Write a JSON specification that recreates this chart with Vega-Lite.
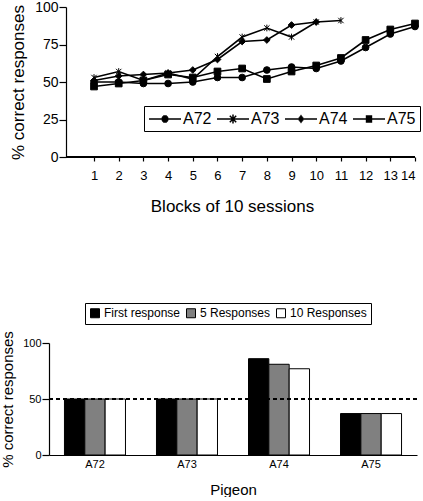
{
  "$schema": "https://vega.github.io/schema/vega-lite/v6.json",
  "padding": {"left": 0, "top": 0, "right": 0, "bottom": 0},
  "background": "white",
  "spacing": 116,
  "config": {
    "font": "Liberation Sans",
    "view": {"stroke": null},
    "axis": {"domainColor": "black", "tickColor": "black", "labelColor": "black", "titleColor": "black", "titleFontWeight": "normal", "grid": false, "domainWidth": 1.2, "tickWidth": 1.2},
    "legend": {"labelColor": "black", "titleColor": "black"}
  },
  "datasets": {
    "lines": [
      {"block": 1, "pigeon": "A72", "pct": 50}, {"block": 2, "pigeon": "A72", "pct": 50}, {"block": 3, "pigeon": "A72", "pct": 49}, {"block": 4, "pigeon": "A72", "pct": 49}, {"block": 5, "pigeon": "A72", "pct": 50}, {"block": 6, "pigeon": "A72", "pct": 53}, {"block": 7, "pigeon": "A72", "pct": 53}, {"block": 8, "pigeon": "A72", "pct": 58}, {"block": 9, "pigeon": "A72", "pct": 60}, {"block": 10, "pigeon": "A72", "pct": 59}, {"block": 11, "pigeon": "A72", "pct": 64}, {"block": 12, "pigeon": "A72", "pct": 73}, {"block": 13, "pigeon": "A72", "pct": 82}, {"block": 14, "pigeon": "A72", "pct": 87},
      {"block": 1, "pigeon": "A73", "pct": 53}, {"block": 2, "pigeon": "A73", "pct": 57}, {"block": 3, "pigeon": "A73", "pct": 51}, {"block": 4, "pigeon": "A73", "pct": 56}, {"block": 5, "pigeon": "A73", "pct": 52}, {"block": 6, "pigeon": "A73", "pct": 67}, {"block": 7, "pigeon": "A73", "pct": 80}, {"block": 8, "pigeon": "A73", "pct": 86}, {"block": 9, "pigeon": "A73", "pct": 80}, {"block": 10, "pigeon": "A73", "pct": 90}, {"block": 11, "pigeon": "A73", "pct": 91},
      {"block": 1, "pigeon": "A74", "pct": 51}, {"block": 2, "pigeon": "A74", "pct": 54}, {"block": 3, "pigeon": "A74", "pct": 55}, {"block": 4, "pigeon": "A74", "pct": 56}, {"block": 5, "pigeon": "A74", "pct": 58}, {"block": 6, "pigeon": "A74", "pct": 65}, {"block": 7, "pigeon": "A74", "pct": 77}, {"block": 8, "pigeon": "A74", "pct": 78}, {"block": 9, "pigeon": "A74", "pct": 88}, {"block": 10, "pigeon": "A74", "pct": 90},
      {"block": 1, "pigeon": "A75", "pct": 47}, {"block": 2, "pigeon": "A75", "pct": 49}, {"block": 3, "pigeon": "A75", "pct": 51}, {"block": 4, "pigeon": "A75", "pct": 55}, {"block": 5, "pigeon": "A75", "pct": 53}, {"block": 6, "pigeon": "A75", "pct": 57}, {"block": 7, "pigeon": "A75", "pct": 59}, {"block": 8, "pigeon": "A75", "pct": 52}, {"block": 9, "pigeon": "A75", "pct": 57}, {"block": 10, "pigeon": "A75", "pct": 61}, {"block": 11, "pigeon": "A75", "pct": 66}, {"block": 12, "pigeon": "A75", "pct": 78}, {"block": 13, "pigeon": "A75", "pct": 85}, {"block": 14, "pigeon": "A75", "pct": 89}
    ],
    "bars": [
      {"pigeon": "A72", "measure": "First response", "pct": 50}, {"pigeon": "A72", "measure": "5 Responses", "pct": 50}, {"pigeon": "A72", "measure": "10 Responses", "pct": 50},
      {"pigeon": "A73", "measure": "First response", "pct": 50}, {"pigeon": "A73", "measure": "5 Responses", "pct": 50}, {"pigeon": "A73", "measure": "10 Responses", "pct": 50},
      {"pigeon": "A74", "measure": "First response", "pct": 86}, {"pigeon": "A74", "measure": "5 Responses", "pct": 81}, {"pigeon": "A74", "measure": "10 Responses", "pct": 77},
      {"pigeon": "A75", "measure": "First response", "pct": 37}, {"pigeon": "A75", "measure": "5 Responses", "pct": 37}, {"pigeon": "A75", "measure": "10 Responses", "pct": 37}
    ]
  },
  "vconcat": [
    {
      "width": 366,
      "height": 150,
      "data": {"name": "lines"},
      "encoding": {
        "x": {"field": "block", "type": "quantitative", "scale": {"domain": [-0.823, 14], "nice": false, "zero": false},
          "axis": {"title": "Blocks of 10 sessions", "values": [1,2,3,4,5,6,7,8,9,10,11,12,13,14], "format": "d", "domain": false, "tickSize": 4, "labelFontSize": 13, "labelPadding": 8, "titleFontSize": 17, "titlePadding": 16}},
        "y": {"field": "pct", "type": "quantitative", "scale": {"domain": [0, 100], "nice": false},
          "axis": {"title": "% correct responses", "values": [0, 25, 50, 75, 100], "offset": -17, "tickSize": 7, "labelFontSize": 14, "labelPadding": 1, "titleFontSize": 17, "titlePadding": 7}}
      },
      "layer": [
        {
          "mark": {"type": "rule", "color": "black", "strokeWidth": 1.2},
          "encoding": {"x": {"datum": -0.134}, "x2": {"datum": 14}, "y": {"datum": 0}}
        },
        {
          "mark": {"type": "line", "color": "black", "strokeWidth": 1.6},
          "encoding": {"detail": {"field": "pigeon", "type": "nominal"}}
        },
        {
          "mark": {"type": "point", "filled": true, "fill": "black", "stroke": "black", "strokeWidth": 1, "size": 45, "opacity": 1},
          "encoding": {
            "shape": {"field": "pigeon", "type": "nominal",
              "scale": {"domain": ["A72", "A73", "A74", "A75"], "range": ["circle", "M-0.8,-0.8L0.8,0.8M-0.8,0.8L0.8,-0.8M0,-1V1", "diamond", "square"]},
              "legend": null}
          }
        },
        {
          "transform": [{"filter": "datum.pct < 0"}],
          "mark": {"type": "point", "filled": false, "color": "black", "stroke": "black", "strokeWidth": 1.5},
          "encoding": {
            "shape": {"field": "pigeon", "type": "nominal",
              "scale": {"domain": ["A72", "A73", "A74", "A75"], "range": [
                "M-1,0H3M0.77,-0.375H1.23M0.638,-0.25H1.362M0.578,-0.125H1.422M0.578,0.125H1.422M0.638,0.25H1.362M0.77,0.375H1.23",
                "M-1,0H3M0.6,-0.4L1.4,0.4M0.6,0.4L1.4,-0.4M1,-0.56V0.56",
                "M-1,0H3M0.976,-0.47H1.024M0.9,-0.375H1.1M0.8,-0.25H1.2M0.7,-0.125H1.3M0.7,0.125H1.3M0.8,0.25H1.2M0.9,0.375H1.1M0.976,0.47H1.024",
                "M-1,0H3M0.6,-0.36H1.4M0.6,-0.25H1.4M0.6,-0.125H1.4M0.6,0.125H1.4M0.6,0.25H1.4M0.6,0.36H1.4"
              ]},
              "legend": {
                "orient": "none", "legendX": 95, "legendY": 99, "direction": "horizontal", "columns": 4, "title": null,
                "symbolSize": 256, "symbolStrokeWidth": 1.5, "symbolStrokeColor": "black", "symbolOpacity": 1,
                "labelFontSize": 16, "labelOffset": 17, "columnPadding": 2, "padding": 4,
                "strokeColor": "black", "fillColor": "white"
              }}
          }
        }
      ],
      "resolve": {"scale": {"shape": "independent"}, "legend": {"shape": "independent"}}
    },
    {
      "width": 368,
      "height": 112,
      "data": {"name": "bars"},
      "layer": [
        {
          "mark": {"type": "bar", "stroke": "black", "strokeWidth": 1},
          "encoding": {
            "x": {"field": "pigeon", "type": "nominal", "scale": {"paddingInner": 0.337, "paddingOuter": 0.168},
              "axis": {"title": "Pigeon", "labelAngle": 0, "ticks": false, "labelFontSize": 11, "labelPadding": 3, "titleFontSize": 15, "titlePadding": 13}},
            "xOffset": {"field": "measure", "type": "nominal", "sort": ["First response", "5 Responses", "10 Responses"], "scale": {"paddingInner": 0, "paddingOuter": 0}},
            "y": {"field": "pct", "type": "quantitative", "scale": {"domain": [0, 100], "nice": false},
              "axis": {"title": "% correct responses", "values": [0, 50, 100], "tickSize": 7, "labelFontSize": 11, "labelPadding": 1, "titleFontSize": 15, "titlePadding": 7}},
            "fill": {"field": "measure", "type": "nominal",
              "scale": {"domain": ["First response", "5 Responses", "10 Responses"], "range": ["#000000", "#808080", "#ffffff"]},
              "legend": {"orient": "none", "legendX": 36, "legendY": 296, "direction": "horizontal", "columns": 3, "title": null,
                "symbolType": "square", "symbolSize": 81, "symbolStrokeColor": "black", "symbolStrokeWidth": 1,
                "labelFontSize": 12, "labelOffset": 3, "columnPadding": 3, "padding": 4,
                "strokeColor": "black", "fillColor": "white"}}
          }
        },
        {
          "mark": {"type": "rule", "strokeDash": [4, 3], "strokeWidth": 1.5, "color": "black"},
          "encoding": {"y": {"datum": 50}}
        }
      ]
    }
  ]
}
